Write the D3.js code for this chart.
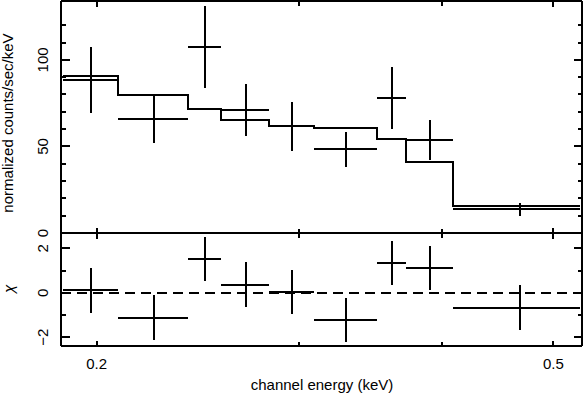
<!DOCTYPE html>
<meta charset="utf-8">
<style>
    body { margin: 0; background: #fff; }
    svg { display: block; font-family: "Liberation Sans", Arial, sans-serif; font-size: 15px; }
    .axis .domain, .axis .tick line { stroke: #000; stroke-width: 2; shape-rendering: crispEdges; }
    .mark { fill: none; stroke: #000; stroke-width: 2; shape-rendering: crispEdges; }
    .zero { fill: none; stroke: #000; stroke-width: 2; stroke-dasharray: 10,6; shape-rendering: crispEdges; }
</style>
<body>
<svg width="584" height="396"></svg>
<script src="https://cdn.jsdelivr.net/npm/d3@7"></script>
<script>

    // channel bin edges (keV) and error-bar position inside each bin
    var binEdges = [0.1871, 0.2088, 0.2403, 0.2565, 0.2827, 0.3096, 0.3513, 0.3723, 0.4084, 0.5273];
    var binMid = [0.1977, 0.2245, 0.2486, 0.2696, 0.2960, 0.3301, 0.3618, 0.3903, 0.4676];

    // normalized counts/sec/keV with 1 sigma errors
    var counts = [88.4, 65.7, 107.4, 70.9, 61.6, 48.3, 77.8, 53.7, 13.6];
    var countErr = [19.0, 13.5, 23.8, 15.0, 14.1, 10.0, 17.9, 11.3, 3.5];

    // folded model
    var model = [90.7, 79.5, 71.4, 65.1, 61.6, 60.5, 54.3, 41.2, 15.8];

    // residuals (chi)
    var chi = [0.10, -1.12, 1.52, 0.37, 0.03, -1.23, 1.34, 1.12, -0.67];

    var xMajor = [0.2, 0.5], xMinor = [0.3, 0.4];
    var yMajor = [0, 50, 100], yMinor = [10, 20, 30, 40, 60, 70, 80, 90, 110, 120];
    var chiMajor = [-2, 0, 2], chiMinor = [-1, 1];

    var svg = d3.select("svg");
    var padL = 61, padR = 582, padT = 1, padM = 233, padB = 346;

    var x = d3.scaleLog().domain([0.1862, 0.5295]).range([padL, padR]);
    var y = d3.scaleLinear().domain([0, 134]).range([padM, padT]);
    var yc = d3.scaleLinear().domain([-2.40, 2.69]).range([padB, padM]);

    function addAxes(ys, major, minor, y0, y1) {
        // x ticks top and bottom (inward)
        [[d3.axisBottom, y1], [d3.axisTop, y0]].forEach(function (a) {
            svg.append("g").attr("class", "axis").attr("transform", "translate(0," + a[1] + ")")
                .call(a[0](x).tickValues(xMajor).tickSize(-5.5).tickSizeOuter(0).tickFormat("").offset(0));
            svg.append("g").attr("class", "axis").attr("transform", "translate(0," + a[1] + ")")
                .call(a[0](x).tickValues(xMinor).tickSize(-4.5).tickSizeOuter(0).tickFormat("").offset(0));
        });
        // y ticks left and right (inward)
        [[d3.axisLeft, padL], [d3.axisRight, padR]].forEach(function (a) {
            svg.append("g").attr("class", "axis").attr("transform", "translate(" + a[1] + ",0)")
                .call(a[0](ys).tickValues(major).tickSize(-8.5).tickSizeOuter(0).tickFormat("").offset(0));
            svg.append("g").attr("class", "axis").attr("transform", "translate(" + a[1] + ",0)")
                .call(a[0](ys).tickValues(minor).tickSize(-4.5).tickSizeOuter(0).tickFormat("").offset(0));
        });
        // rotated tick labels
        svg.append("g").selectAll("text")
            .data(major)
            .enter().append("text")
            .attr("transform", function (d) { return "translate(48," + ys(d) + ") rotate(-90)"; })
            .attr("text-anchor", "middle")
            .text(function (d) { return d < 0 ? "\u2212" + (-d) : d; });
    }

    addAxes(y, yMajor, yMinor, padT, padM);
    addAxes(yc, chiMajor, chiMinor, padM, padB);

    // x tick labels
    svg.append("g").selectAll("text")
        .data(xMajor)
        .enter().append("text")
        .attr("x", function (d) { return x(d); })
        .attr("y", 368.5)
        .attr("text-anchor", "middle")
        .text(function (d) { return d; });

    svg.append("text")
        .attr("x", 322).attr("y", 390)
        .attr("text-anchor", "middle")
        .text("channel energy (keV)");

    svg.append("text")
        .attr("transform", "translate(13,123) rotate(-90)")
        .attr("text-anchor", "middle")
        .text("normalized counts/sec/keV");

    svg.append("text")
        .attr("transform", "translate(14,289) rotate(-90)")
        .attr("text-anchor", "middle")
        .style("font-style", "italic")
        .text("\u03c7");

    // upper panel: data crosses
    var bins = d3.range(counts.length);
    var up = svg.append("g");
    up.selectAll(".hbar").data(bins).enter().append("line")
        .attr("class", "mark")
        .attr("x1", function (i) { return x(binEdges[i]); })
        .attr("x2", function (i) { return x(binEdges[i + 1]); })
        .attr("y1", function (i) { return y(counts[i]); })
        .attr("y2", function (i) { return y(counts[i]); });
    up.selectAll(".vbar").data(bins).enter().append("line")
        .attr("class", "mark")
        .attr("x1", function (i) { return x(binMid[i]); })
        .attr("x2", function (i) { return x(binMid[i]); })
        .attr("y1", function (i) { return y(counts[i] - countErr[i]); })
        .attr("y2", function (i) { return y(counts[i] + countErr[i]); });

    // model histogram
    var steps = bins.map(function (i) { return [binEdges[i], model[i]]; });
    steps.push([binEdges[binEdges.length - 1], model[model.length - 1]]);
    var line = d3.line()
        .x(function (d) { return x(d[0]); })
        .y(function (d) { return y(d[1]); })
        .curve(d3.curveStepAfter);
    up.append("path").attr("class", "mark").attr("d", line(steps));

    // lower panel: residuals
    var lo = svg.append("g");
    lo.append("line").attr("class", "zero")
        .attr("x1", padL).attr("x2", padR)
        .attr("y1", yc(0)).attr("y2", yc(0));
    lo.selectAll(".hbar").data(bins).enter().append("line")
        .attr("class", "mark")
        .attr("x1", function (i) { return x(binEdges[i]); })
        .attr("x2", function (i) { return x(binEdges[i + 1]); })
        .attr("y1", function (i) { return yc(chi[i]); })
        .attr("y2", function (i) { return yc(chi[i]); });
    lo.selectAll(".vbar").data(bins).enter().append("line")
        .attr("class", "mark")
        .attr("x1", function (i) { return x(binMid[i]); })
        .attr("x2", function (i) { return x(binMid[i]); })
        .attr("y1", function (i) { return yc(chi[i] - 1); })
        .attr("y2", function (i) { return yc(chi[i] + 1); });

</script>
</body>
